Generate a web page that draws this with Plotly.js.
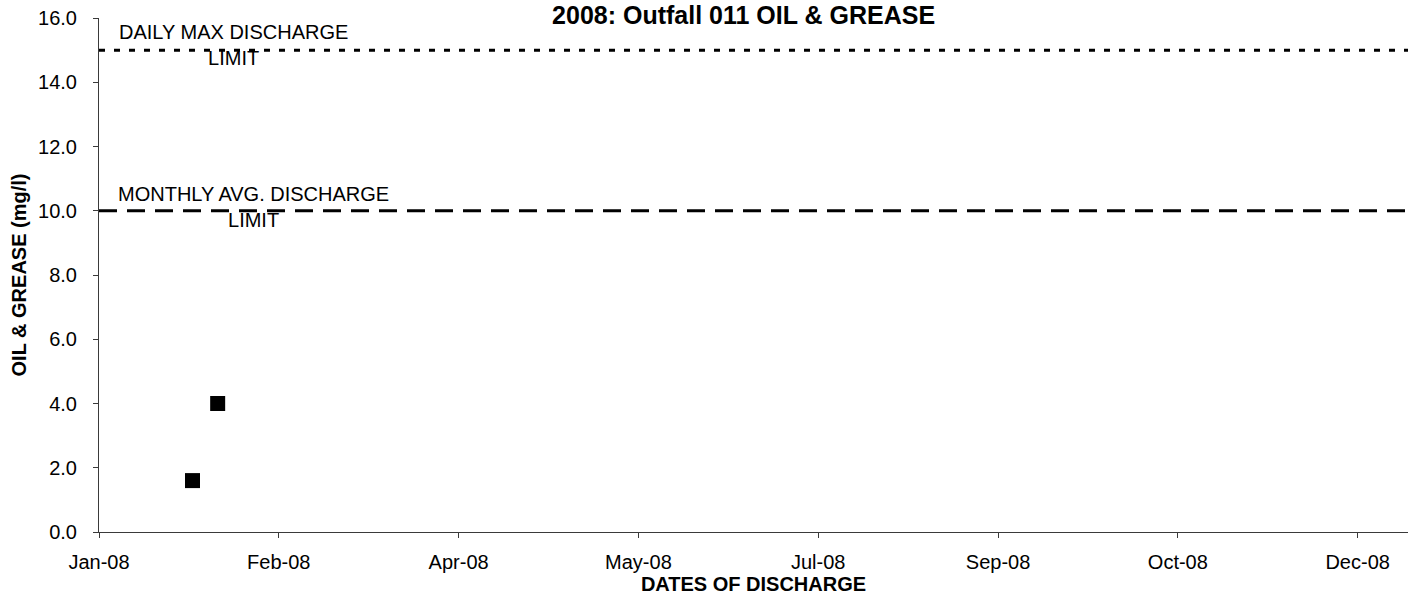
<!DOCTYPE html>
<html>
<head>
<meta charset="utf-8">
<script src="https://cdn.plot.ly/plotly-3.0.1.min.js"></script>
<style>
  html, body { margin: 0; padding: 0; background: #fff; }
  #chart { width: 1411px; height: 600px; }
</style>
</head>
<body>
<div id="chart"></div>
<script>
// ---- data ----
const sampleDates = ['2008-01-27', '2008-02-03'];
const oilGrease = [1.6, 4.0];

const limitNames = ['DAILY MAX DISCHARGE<br>LIMIT', 'MONTHLY AVG. DISCHARGE<br>LIMIT'];
const limitValues = [15, 10];

const xTickDates = ['2008-01-01', '2008-02-20', '2008-04-10', '2008-05-30',
                    '2008-07-19', '2008-09-07', '2008-10-27', '2008-12-16'];
const xTickLabels = ['Jan-08', 'Feb-08', 'Apr-08', 'May-08', 'Jul-08', 'Sep-08', 'Oct-08', 'Dec-08'];
const yTickValues = [0, 2, 4, 6, 8, 10, 12, 14, 16];

// ---- chart ----
const FONT = 'Liberation Sans, Arial, sans-serif';
const axisColor = '#3a3a3a';

const traces = [{
  x: sampleDates,
  y: oilGrease,
  type: 'scatter',
  mode: 'markers',
  marker: { symbol: 'square', size: 15, color: '#000000' },
  hoverinfo: 'x+y',
  showlegend: false
}];

const dashStyles = ['6px,9px', '18px,10px'];
const labelPos = [
  { x: 0.1024, y: 15.17 },
  { x: 0.1184, y: 10.13 }
];

const shapes = limitValues.map((v, i) => ({
  type: 'line', xref: 'paper', yref: 'y',
  x0: 0, x1: 1, y0: v, y1: v,
  line: { color: '#000000', width: 3, dash: dashStyles[i] }
}));

const annotations = limitNames.map((t, i) => ({
  text: t, xref: 'paper', yref: 'y',
  x: labelPos[i].x, y: labelPos[i].y,
  xanchor: 'center', yanchor: 'middle', align: 'center',
  showarrow: false,
  font: { family: FONT, size: 20, color: '#000000' }
}));

const layout = {
  width: 1411, height: 600,
  paper_bgcolor: '#ffffff', plot_bgcolor: '#ffffff',
  margin: { l: 99, r: 3, t: 18, b: 68, pad: 0 },
  showlegend: false,
  title: {
    text: '<b>2008: Outfall 011 OIL & GREASE</b>',
    font: { family: FONT, size: 25, color: '#000000' },
    xref: 'container', yref: 'container',
    x: 0.527, xanchor: 'center',
    y: 0.99, yanchor: 'top', pad: { t: 0, b: 0 }
  },
  xaxis: {
    type: 'date',
    range: ['2008-01-01', '2008-12-30'],
    tickmode: 'array', tickvals: xTickDates, ticktext: xTickLabels,
    ticks: 'outside', ticklen: 5, tickwidth: 1, tickcolor: axisColor,
    showline: true, linecolor: axisColor, linewidth: 1,
    showgrid: false, zeroline: false,
    tickfont: { family: FONT, size: 20, color: '#000000' },
    ticklabelstandoff: 7,
    title: {
      text: '<b>DATES OF DISCHARGE</b>',
      font: { family: FONT, size: 20, color: '#000000' },
      standoff: 4
    },
    fixedrange: true
  },
  yaxis: {
    range: [0, 16],
    tickmode: 'array', tickvals: yTickValues,
    tickformat: '.1f',
    ticks: 'outside', ticklen: 5, tickwidth: 1, tickcolor: axisColor,
    showline: true, linecolor: axisColor, linewidth: 1,
    showgrid: false, zeroline: false,
    tickfont: { family: FONT, size: 20, color: '#000000' },
    ticklabelstandoff: 12,
    title: {
      text: '<b>OIL & GREASE (mg/l)</b>',
      font: { family: FONT, size: 20, color: '#000000' },
      standoff: 6
    },
    fixedrange: true
  },
  shapes: shapes,
  annotations: annotations
};

Plotly.newPlot('chart', traces, layout, { displayModeBar: false, staticPlot: true });
</script>
</body>
</html>
